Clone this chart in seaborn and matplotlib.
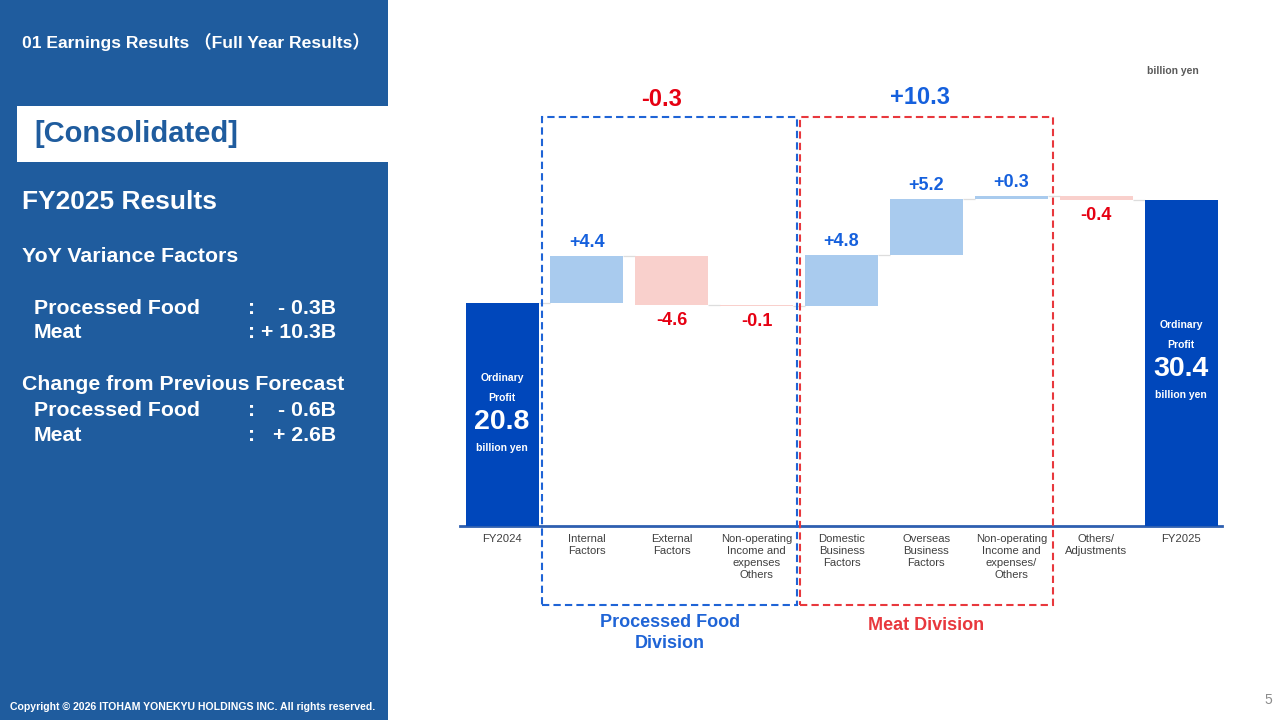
import matplotlib
matplotlib.use("Agg")
import matplotlib.pyplot as plt
import seaborn as sns
import numpy as np
from matplotlib.patches import Rectangle

# ---------------- data ----------------
categories = ["FY2024", "Internal\nFactors", "External\nFactors",
              "Non-operating\nIncome and\nexpenses\nOthers",
              "Domestic\nBusiness\nFactors", "Overseas\nBusiness\nFactors",
              "Non-operating\nIncome and\nexpenses/\nOthers",
              "Others/\nAdjustments", "FY2025"]
start_value = 20.8
changes = [4.4, -4.6, -0.1, 4.8, 5.2, 0.3, -0.4]
end_value = 30.4
change_labels = ["+4.4", "-4.6", "-0.1", "+4.8", "+5.2", "+0.3", "-0.4"]
division_totals = ["-0.3", "+10.3"]
division_names = ["Processed Food\nDivision", "Meat Division"]

# ---------------- colours ----------------
PANEL = "#1F5C9E"
TOTAL = "#0047BB"
POS = "#A9CBEE"
NEG = "#F9D0CC"
BLUE_T = "#1560DD"
RED_T = "#E60012"
BOX_BLUE = "#1F64D6"
BOX_RED = "#E8383D"
GRAY_T = "#404040"

# waterfall geometry derived from data
running = [start_value]
for c in changes:
    running.append(running[-1] + c)
bottoms = [0.0]
heights = [start_value]
for i, c in enumerate(changes):
    lo = min(running[i], running[i + 1])
    bottoms.append(lo)
    heights.append(abs(c))
bottoms.append(0.0)
heights.append(end_value)
colors = [TOTAL] + [POS if c > 0 else NEG for c in changes] + [TOTAL]

sns.set_theme(style="white")
plt.rcParams["font.family"] = ["Liberation Sans", "Noto Sans CJK JP", "DejaVu Sans"]

fig = plt.figure(figsize=(12.8, 7.2), dpi=100)
fig.patch.set_facecolor("white")

def fx(px):
    return px / 1280

def fy(py):
    return 1 - py / 720

# ---------------- left panel ----------------
fig.patches.append(Rectangle((0, 0), fx(388), 1, transform=fig.transFigure,
                             facecolor=PANEL, edgecolor="none", zorder=0))
fig.patches.append(Rectangle((fx(17), fy(162)), fx(388 - 17), (162 - 106) / 720,
                             transform=fig.transFigure, facecolor="white",
                             edgecolor="none", zorder=1))

narrow = ["Liberation Sans Narrow", "Liberation Sans", "Noto Sans CJK JP", "DejaVu Sans"]
fig.text(fx(22), fy(42), "01 Earnings Results （Full Year Results）", color="white",
         fontsize=12.6, fontweight="bold", va="center", ha="left", family=narrow)
fig.text(fx(34), fy(134), "[Consolidated]", color=PANEL, fontsize=21,
         fontweight="bold", va="center", ha="left")
fig.text(fx(22), fy(202), "FY2025 Results", color="white", fontsize=19,
         fontweight="bold", va="center", ha="left")
fig.text(fx(22), fy(256), "YoY Variance Factors", color="white", fontsize=15.3,
         fontweight="bold", va="center", ha="left")
fig.text(fx(22), fy(384), "Change from Previous Forecast", color="white",
         fontsize=15.3, fontweight="bold", va="center", ha="left")
rows = [(308, "Processed Food", ":", "- 0.3B"),
        (333, "Meat", ":", "+ 10.3B"),
        (410, "Processed Food", ":", "- 0.6B"),
        (436, "Meat", ":", "+ 2.6B")]
for y, name, colon, val in rows:
    fig.text(fx(34), fy(y), name, color="white", fontsize=15.3,
             fontweight="bold", va="center", ha="left")
    fig.text(fx(248), fy(y), colon, color="white", fontsize=15.3,
             fontweight="bold", va="center", ha="left")
    fig.text(fx(336), fy(y), val, color="white", fontsize=15.3,
             fontweight="bold", va="center", ha="right")
fig.text(fx(10), fy(707), "Copyright © 2026 ITOHAM YONEKYU HOLDINGS INC. All rights reserved.",
         color="white", fontsize=7.6, fontweight="bold", va="center", ha="left",
         family=narrow)
fig.text(fx(1272), fy(700), "5", color="#8C8C8C", fontsize=10, va="center", ha="right")

# ---------------- chart ----------------
ax_left, ax_right = 460, 1222
ax_top, ax_bottom = 60, 526
ax = fig.add_axes([fx(ax_left), fy(ax_bottom), (ax_right - ax_left) / 1280,
                   (ax_bottom - ax_top) / 720])
ax.set_facecolor("none")

keys = [f"c{i}" for i in range(len(categories))]
sns.barplot(x=keys, y=heights, order=keys, bottom=bottoms, width=0.86,
            color=TOTAL, saturation=1, ax=ax, errorbar=None, zorder=3)
for p, c in zip(ax.patches, colors):
    p.set_facecolor(c)
    p.set_edgecolor("none")

ax.set_xlim(-0.495, 8.483)
ymax = (ax_bottom - ax_top) / 10.72
ax.set_ylim(0, ymax)

# connectors
for i in range(len(running)):
    ax.hlines(running[i], i + 0.43, i + 0.57, color="#DDDDDD", lw=0.9, zorder=2)

# axis
for s in ["top", "right", "left"]:
    ax.spines[s].set_visible(False)
ax.spines["bottom"].set_color("#2E5FB0")
ax.spines["bottom"].set_linewidth(2)
ax.set_yticks([])
ax.set_xticks(range(len(categories)))
ax.set_xticklabels(categories, fontsize=8.1, color=GRAY_T, linespacing=1.22,
                   va="top", family=narrow)
ax.tick_params(axis="x", length=0, pad=6)
ax.set_xlabel("")
ax.set_ylabel("")

# change labels
for i, (c, lab) in enumerate(zip(changes, change_labels), start=1):
    if c > 0:
        y = running[i] + 0.45
        ax.text(i, y, lab, ha="center", va="bottom", fontsize=13,
                fontweight="bold", color=BLUE_T, zorder=5)
    else:
        y = running[i] - 0.6
        ax.text(i, y, lab, ha="center", va="top", fontsize=13,
                fontweight="bold", color=RED_T, zorder=5)

# total bar labels
for i, v in [(0, start_value), (8, end_value)]:
    c = v * 0.516 - 1.03
    ax.text(i, c + 4.1, "Ordinary", ha="center", va="center", fontsize=7.5,
            fontweight="bold", color="white", zorder=5)
    ax.text(i, c + 2.24, "Profit", ha="center", va="center", fontsize=7.5,
            fontweight="bold", color="white", zorder=5)
    ax.text(i, c, f"{v:.1f}", ha="center", va="center", fontsize=20.5,
            fontweight="bold", color="white", zorder=5)
    ax.text(i, c - 2.43, "billion yen", ha="center", va="center", fontsize=7.5,
            fontweight="bold", color="white", zorder=5)

ax.text(7.9, (ax_bottom - 71) / 10.72, "billion yen", ha="center", va="center",
        fontsize=7.5, fontweight="bold", color="#595959")

# division boxes
def py2d(py):
    return (ax_bottom - py) / 10.72

box_top, box_bot = py2d(117), py2d(605)
for x0, x1, col in [(0.471, 3.476, BOX_BLUE), (3.51, 6.49, BOX_RED)]:
    ax.add_patch(Rectangle((x0, box_bot), x1 - x0, box_top - box_bot,
                           fill=False, edgecolor=col, lw=1.5, ls=(0, (3.5, 2)),
                           clip_on=False, zorder=6))

ax.text(1.885, py2d(99), division_totals[0], ha="center", va="center",
        fontsize=17, fontweight="bold", color=RED_T)
ax.text(4.93, py2d(98), division_totals[1], ha="center", va="center",
        fontsize=17, fontweight="bold", color=BLUE_T)
ax.text(1.975, py2d(633), division_names[0], ha="center", va="center",
        fontsize=13, fontweight="bold", color=BOX_BLUE, linespacing=1.3,
        family=narrow)
ax.text(5.0, py2d(626), division_names[1], ha="center", va="center",
        fontsize=13, fontweight="bold", color=BOX_RED, family=narrow)

fig.savefig("out.png", dpi=100, facecolor="white")
